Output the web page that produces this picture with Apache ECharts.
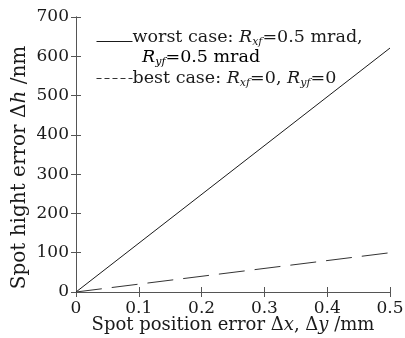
<!DOCTYPE html>
<html>
<head>
<meta charset="utf-8">
<script src="https://cdn.jsdelivr.net/npm/echarts@6/dist/echarts.min.js"></script>
<style>
  html, body { margin: 0; padding: 0; background: #fff; }
  #chart { width: 405px; height: 338px; }
</style>
</head>
<body>
<div id="chart"></div>
<script>
// spot position error (mm)
const posErr = [0, 0.5];
// spot hight error (nm)
const worstCase = [0, 621];
const bestCase = [0, 100];

const FONT = 'DejaVu Serif';
const INK = '#1a1a1a';

const chart = echarts.init(document.getElementById('chart'));

function pairs(xs, ys) {
  let out = [];
  xs.forEach((x, i) => { out.push([x, ys[i]]) });
  return out;
}

function richSet(size) {
  return {
    i: { fontFamily: FONT, fontSize: size, fontStyle: 'italic', color: INK },
    s: { fontFamily: FONT, fontSize: Math.round(size * 0.6), fontStyle: 'italic', color: INK, padding: [10, 0, 0, 0] },
    n: { fontFamily: FONT, fontSize: size, color: INK }
  };
}

let option = {
  animation: false,
  grid: { left: 76, right: 15, top: 17, bottom: 46, outerBoundsMode: 'none' },
  legend: {
    left: 96,
    top: 28,
    padding: 0,
    orient: 'vertical',
    itemWidth: 36,
    itemHeight: 14,
    itemGap: 22,
    itemStyle: { color: 'rgba(0,0,0,0)', borderWidth: 0 },
    lineStyle: { width: 1 },
    data: [
      { name: 'worst', textStyle: { padding: [0, 0, 9, -5] } },
      { name: 'best', lineStyle: { type: [5, 3], width: 1 }, textStyle: { padding: [0, 0, 0, -5] } }
    ],
    formatter: function (name) {
      if (name === 'worst') return '{n|worst case: }{i|R}{s|xf}{n|=0.5 mrad,}';
      return '{n|best case: }{i|R}{s|xf}{n|=0, }{i|R}{s|yf}{n|=0}';
    },
    textStyle: { rich: richSet(17.5) }
  },
  graphic: [{
    type: 'text',
    left: 142,
    top: 48,
    style: {
      text: '{i|R}{s|yf}{n|=0.5 mrad}',
      rich: richSet(17.5)
    }
  }],
  xAxis: [
    {
      type: 'value',
      min: 0, max: 0.5, interval: 0.1,
      name: '{n|Spot position error Δ}{i|x}{n|, Δ}{i|y}{n| /mm}',
      nameLocation: 'middle',
      nameGap: 24,
      nameMoveOverlap: false,
      nameTextStyle: { rich: richSet(18) },
      axisLine: { lineStyle: { color: '#555', width: 1 } },
      axisTick: { inside: true, length: 5, lineStyle: { color: '#555' } },
      axisLabel: {
        fontFamily: FONT, fontSize: 17, color: INK, margin: 8,
        formatter: function (v) { return v === 0 ? '0' : v.toFixed(1) }
      },
      splitLine: { show: false }
    },
    {
      type: 'value',
      position: 'top',
      min: 0, max: 0.5, interval: 0.1,
      axisLine: { lineStyle: { color: '#555', width: 1 } },
      axisTick: { inside: true, length: 5, lineStyle: { color: '#555' } },
      axisLabel: { show: false },
      splitLine: { show: false }
    }
  ],
  yAxis: [
    {
      type: 'value',
      min: 0, max: 700, interval: 100,
      name: '{n|Spot hight error Δ}{i|h}{n| /nm}',
      nameLocation: 'middle',
      nameGap: 46,
      nameMoveOverlap: false,
      nameTextStyle: { rich: richSet(20), padding: [0, 26, 0, 0] },
      axisLine: { show: true, lineStyle: { color: '#555', width: 1 } },
      axisTick: { inside: true, length: 5, lineStyle: { color: '#555' } },
      axisLabel: { fontFamily: FONT, fontSize: 17, color: INK, margin: 7 },
      splitLine: { show: false }
    },
    {
      type: 'value',
      position: 'right',
      min: 0, max: 700, interval: 100,
      axisLine: { show: true, lineStyle: { color: '#555', width: 1 } },
      axisTick: { inside: true, length: 5, lineStyle: { color: '#555' } },
      axisLabel: { show: false },
      splitLine: { show: false }
    }
  ],
  series: [
    {
      name: 'worst',
      type: 'line',
      data: pairs(posErr, worstCase),
      symbol: 'none',
      lineStyle: { color: INK, width: 1 },
      itemStyle: { color: INK }
    },
    {
      name: 'best',
      type: 'line',
      data: pairs(posErr, bestCase),
      symbol: 'none',
      lineStyle: { color: '#333', width: 1, type: [26, 10] },
      itemStyle: { color: '#333' }
    }
  ]
};

chart.setOption(option);
</script>
</body>
</html>
